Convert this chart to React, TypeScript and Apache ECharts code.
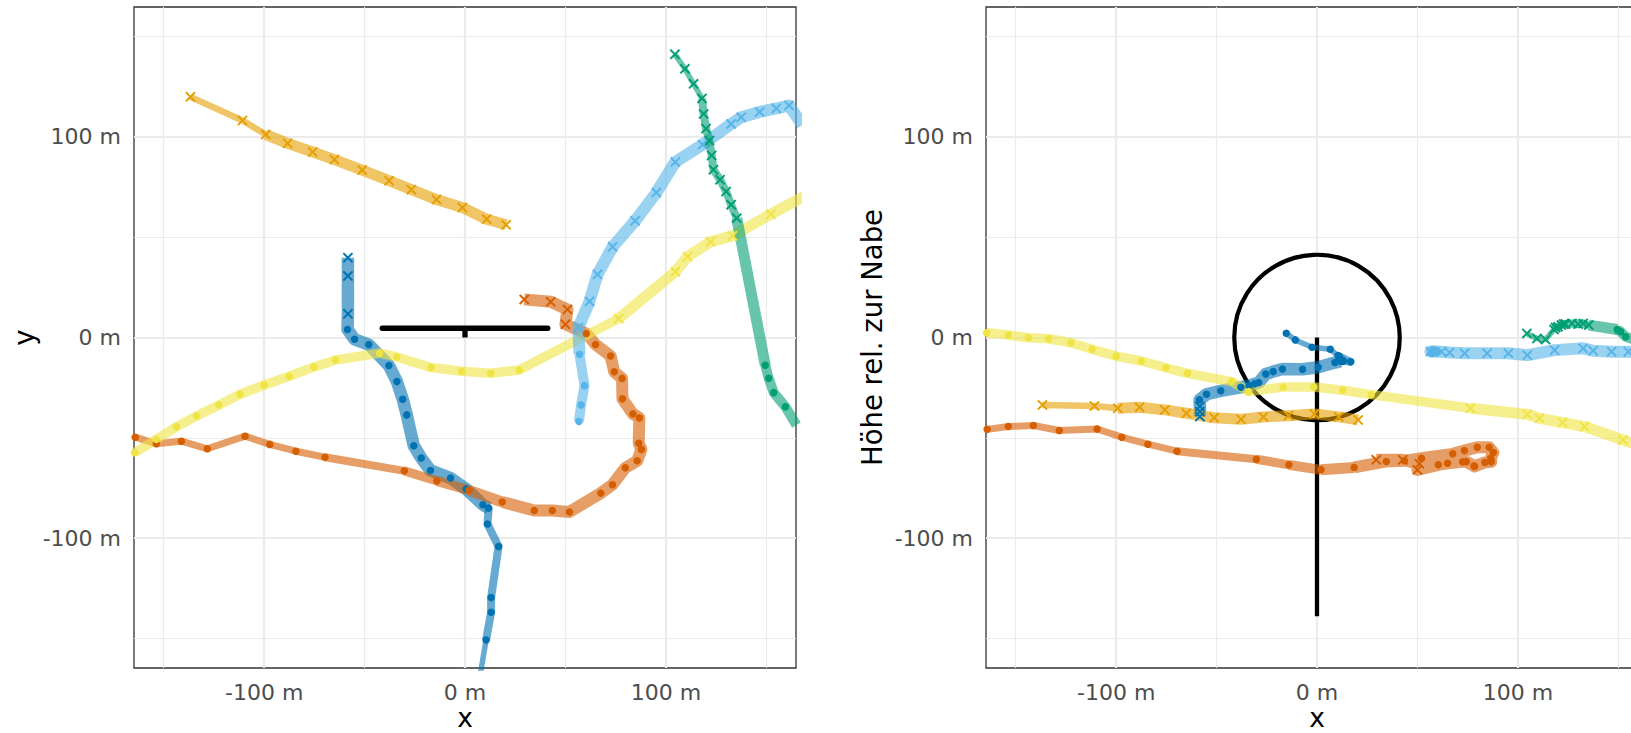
import React, { useEffect, useRef } from "react";
import * as echarts from "echarts";

const FONT = "DejaVu Sans";

// axis limits and breaks (m)
const axisLimits = [-164.8, 164.8];
const majorBreaks = [-100, 0, 100];
const minorBreaks = [-150, -50, 50, 150];

// turbine geometry (m)
const rotorRadius = 41.2;
const nacelleY = 4.6;
const towerHeight = 139;

// ---- tracks: x (m), y (m), z = height rel. to hub (m), shape per point ----
const orangeX = [-136.7, -110.8, -99.2, -88.3, -75.8, -65.0, -51.2, -37.8, -26.7, -14.2, -1.3, 10.8, 20.5];
const orangeY = [120.0, 108.2, 101.2, 96.8, 92.5, 88.7, 83.5, 78.2, 73.7, 68.8, 64.8, 59.0, 56.2];
const orangeZ = [-33.6, -34.1, -35.3, -34.8, -36.1, -37.8, -40.0, -40.8, -39.6, -39.0, -38.1, -39.6, -41.1];
const orangeShape = "xxxxxxxxxxxxx";

const skyX = [56.7, 57.8, 59.5, 57.0, 56.5, 62.0, 66.0, 73.5, 84.7, 95.3, 104.7, 118.3, 132.5, 137.5, 146.7, 155.0, 161.3, 168.0];
const skyY = [-41.9, -33.6, -24.0, -8.4, 5.1, 18.0, 31.5, 45.2, 58.2, 72.3, 87.5, 96.2, 106.5, 109.8, 112.5, 114.2, 115.7, 106.0];
const skyZ = [-8.0, -6.5, -7.0, -7.5, -7.0, -7.1, -7.5, -7.9, -7.9, -7.9, -8.8, -6.3, -5.4, -6.6, -7.1, -7.1, -7.5, -8.0];
const skyShape = "ooooxxxxxxxxxxxxxx";

const greenX = [104.5, 109.5, 113.8, 118.0, 118.8, 120.0, 121.7, 122.8, 123.7, 127.0, 130.0, 132.5, 135.3, 149.5, 151.2, 153.7, 159.5, 165.0];
const greenY = [141.2, 134.0, 126.5, 119.2, 111.5, 104.2, 98.2, 90.8, 83.7, 78.7, 72.8, 66.2, 59.5, -13.8, -20.3, -27.5, -34.5, -43.7];
const greenZ = [2.0, -0.5, -1.0, 4.0, 5.0, 5.3, 6.2, 6.7, 6.7, 7.0, 6.7, 7.0, 6.2, 4.0, 2.9, 0.4, -1.5, -3.0];
const greenShape = "xxxxxxxxxxxxxooooo";

const yellowX = [-164.5, -153.7, -143.7, -133.7, -122.5, -112.0, -100.0, -87.5, -75.2, -64.5, -42.5, -34.0, -16.9, -1.6, 12.8, 27.0, 76.4, 104.7, 110.8, 122.3, 133.2, 152.3, 170.0];
const yellowY = [-57.5, -50.8, -44.5, -39.2, -33.7, -28.3, -23.7, -19.3, -14.7, -11.2, -7.8, -9.7, -15.0, -16.8, -17.8, -16.2, 9.4, 32.8, 40.3, 47.8, 50.7, 61.5, 71.0];
const yellowZ = [2.4, 1.2, -0.1, -0.6, -2.6, -5.9, -9.3, -11.7, -15.1, -17.9, -22.0, -27.0, -24.7, -24.7, -26.3, -28.5, -35.3, -38.3, -40.3, -42.4, -44.4, -51.1, -57.0];
const yellowShape = "ooooooooooooooooxxxxxxx";

const blueX = [-58.3, -58.3, -58.3, -58.5, -55.0, -47.9, -37.9, -33.9, -31.0, -29.0, -25.5, -21.8, -17.2, -7.2, 0.6, 8.9, 11.8, 11.2, 16.7, 13.0, 13.0, 10.5, 6.6, -2.5, -10.8, -15.3];
const blueY = [39.8, 30.7, 11.8, 4.0, -0.9, -3.5, -14.0, -22.0, -30.8, -38.6, -54.0, -60.1, -66.3, -70.1, -75.6, -83.4, -85.0, -93.0, -104.2, -129.7, -137.0, -150.8, -174.0, -185.0, -195.0, -202.0];
const blueZ = [-39.4, -37.0, -34.4, -31.1, -28.3, -26.6, -24.8, -24.0, -23.1, -22.5, -18.2, -17.0, -15.7, -15.8, -14.8, -12.5, -11.8, -9.5, -12.1, -11.5, -11.8, -9.0, -5.9, -4.9, -1.2, 2.1];
const blueShape = "xxxooooooooooooooooooooooo";

const vermX = [-164.2, -153.7, -141.2, -128.3, -109.5, -97.2, -84.2, -69.7, -30.2, -14.0, 2.0, 18.5, 34.5, 43.5, 52.0, 67.6, 73.4, 79.8, 85.7, 87.8, 86.5, 86.8, 83.6, 78.4, 78.2, 74.3, 72.5, 65.0, 60.4, 50.0, 51.0, 42.7, 29.5];
const vermY = [-49.7, -53.0, -51.7, -55.5, -49.2, -53.3, -56.7, -59.7, -66.5, -71.5, -76.2, -82.0, -86.3, -86.3, -87.0, -77.6, -73.4, -65.0, -61.5, -55.8, -52.7, -40.1, -38.1, -30.6, -20.4, -17.1, -9.2, -3.5, 2.0, 6.6, 14.0, 17.8, 19.0];
const vermZ = [-45.8, -44.4, -43.9, -46.4, -45.6, -49.7, -53.2, -56.7, -60.7, -63.5, -66.0, -64.8, -61.8, -61.5, -60.2, -58.0, -56.4, -54.7, -54.7, -57.4, -60.2, -62.0, -62.3, -64.3, -64.0, -61.9, -62.0, -62.7, -63.5, -66.0, -63.0, -61.0, -61.0];
const vermShape = "oooooooooooooooooooooooooooooxxxx";

// ---- styles: path width per segment (px) ----
const orangeWidth = [6.5, 6.5, 11, 11, 11, 11, 11, 11, 11, 11, 11, 11];
const skyWidth = [10, 10, 10, 12, 12, 12, 12, 12, 12, 12, 12, 12, 12, 12, 12, 12, 12];
const greenWidth = [5.5, 5.5, 5.5, 8, 8, 8, 8, 8, 8, 8, 8, 8, 11, 10, 10, 10, 10];
const yellowWidth = [9.5, 9.5, 9.5, 9.5, 9.5, 9.5, 9.5, 9.5, 9.5, 9.5, 9.5, 9.5, 9.5, 9.5, 9.5, 9.5, 11, 11, 11, 11, 11, 11];
const blueWidth = [12.5, 12.5, 12.5, 12.5, 12.5, 12.5, 12.5, 12.5, 12.5, 12.5, 12.5, 12.5, 12.5, 12.5, 12.5, 12.5, 8, 8, 8, 8, 8, 5.5, 5.5, 5.5, 5.5];
const vermWidth = [7, 7, 7, 7, 7, 7, 7, 8, 9, 10, 11, 12, 12, 12, 12, 12, 12, 12, 12, 12, 12, 12, 12, 12, 12, 12, 12, 12, 12, 12, 12, 12];

const tracks = [
  { color: "#0072B2", x: blueX, y: blueY, z: blueZ, shape: blueShape, widths: blueWidth },
  { color: "#D55E00", x: vermX, y: vermY, z: vermZ, shape: vermShape, widths: vermWidth },
  { color: "#F0E442", x: yellowX, y: yellowY, z: yellowZ, shape: yellowShape, widths: yellowWidth },
  { color: "#56B4E9", x: skyX, y: skyY, z: skyZ, shape: skyShape, widths: skyWidth },
  { color: "#E69F00", x: orangeX, y: orangeY, z: orangeZ, shape: orangeShape, widths: orangeWidth },
  { color: "#009E73", x: greenX, y: greenY, z: greenZ, shape: greenShape, widths: greenWidth },
];

const CROSS = "path://M0,1.3L1.3,0L5,3.7L8.7,0L10,1.3L6.3,5L10,8.7L8.7,10L5,6.3L1.3,10L0,8.7L3.7,5Z";

function buildSeries(): any[] {
  const series: any[] = [];
  for (let p = 0; p < 2; p++) {
    // grid lines (drawn through the axis scales)
    const gl = (v: number, w: number, key: string) => ({ [key]: v, lineStyle: { width: w, color: "#EBEBEB", type: "solid" } });
    series.push({
      type: "line",
      xAxisIndex: p,
      yAxisIndex: p,
      data: [],
      silent: true,
      z: 1,
      markLine: {
        silent: true,
        z: 1,
        animation: false,
        symbol: ["none", "none"],
        label: { show: false },
        emphasis: { disabled: true },
        data: [
          ...minorBreaks.map((v) => gl(v, 1.1, "xAxis")),
          ...minorBreaks.map((v) => gl(v, 1.1, "yAxis")),
          ...majorBreaks.map((v) => gl(v, 2.2, "xAxis")),
          ...majorBreaks.map((v) => gl(v, 2.2, "yAxis")),
        ],
      },
    });
  }
  // turbine, top view
  series.push({
    type: "line", xAxisIndex: 0, yAxisIndex: 0, z: 2, silent: true, symbol: "none",
    data: [[-rotorRadius, nacelleY], [rotorRadius, nacelleY]],
    lineStyle: { color: "#000", width: 5.3, cap: "round" },
  });
  series.push({
    type: "line", xAxisIndex: 0, yAxisIndex: 0, z: 2, silent: true, symbol: "none",
    data: [[0, nacelleY], [0, 0]],
    lineStyle: { color: "#000", width: 5.3, cap: "butt" },
  });
  // turbine, side view
  series.push({
    type: "line", xAxisIndex: 1, yAxisIndex: 1, z: 2, silent: true, symbol: "none",
    data: [[0, 0], [0, -towerHeight]],
    lineStyle: { color: "#000", width: 4.3, cap: "butt" },
  });
  series.push({
    type: "custom", xAxisIndex: 1, yAxisIndex: 1, z: 2, silent: true, clip: true,
    data: [[0, 0, rotorRadius]],
    renderItem: (_params: any, api: any) => {
      const c = api.coord([api.value(0), api.value(1)]);
      const r = api.size([api.value(2), 0])[0];
      return {
        type: "circle",
        shape: { cx: c[0], cy: c[1], r },
        style: { fill: "none", stroke: "#000", lineWidth: 4.2 },
      };
    },
  });

  // paths
  for (let p = 0; p < 2; p++) {
    for (const t of tracks) {
      const pts = t.x.map((xv, i) => [xv, p === 0 ? t.y[i] : t.z[i]]);
      let start = 0;
      for (let i = 1; i <= t.widths.length; i++) {
        if (i === t.widths.length || t.widths[i] !== t.widths[start]) {
          series.push({
            type: "line", xAxisIndex: p, yAxisIndex: p, z: 3, silent: true, clip: true,
            symbol: "none", showSymbol: false,
            data: pts.slice(start, i + 1),
            lineStyle: { color: t.color, width: t.widths[start], opacity: 0.6, cap: "butt", join: "round" },
          });
          start = i;
        }
      }
    }
  }
  // points
  for (let p = 0; p < 2; p++) {
    for (const t of tracks) {
      const dots: number[][] = [];
      const crosses: number[][] = [];
      t.x.forEach((xv, i) => {
        const pt = [xv, p === 0 ? t.y[i] : t.z[i]];
        if (t.shape[i] === "x") crosses.push(pt);
        else dots.push(pt);
      });
      series.push({
        type: "scatter", xAxisIndex: p, yAxisIndex: p, z: 4, silent: true, clip: true,
        data: dots, symbol: "circle", symbolSize: 7.5,
        itemStyle: { color: t.color, opacity: 1 },
      });
      series.push({
        type: "scatter", xAxisIndex: p, yAxisIndex: p, z: 4, silent: true, clip: true,
        data: crosses, symbol: CROSS, symbolSize: 10.5,
        itemStyle: { color: t.color, opacity: 1 },
      });
    }
  }
  return series;
}

function axisBase(gridIndex: number, name: string, nameGap: number, nameSize: number) {
  return {
    type: "value",
    gridIndex,
    min: axisLimits[0],
    max: axisLimits[1],
    name,
    nameLocation: "middle",
    nameGap,
    nameMoveOverlap: false,
    nameTextStyle: { fontFamily: FONT, fontSize: nameSize, lineHeight: 26, color: "#000" },
    axisLine: { show: false },
    axisTick: { show: true, customValues: majorBreaks, length: 6, lineStyle: { color: "#333333", width: 1.5 } },
    axisLabel: {
      show: true,
      customValues: majorBreaks,
      formatter: (v: number) => `${v} m`,
      color: "#4D4D4D",
      fontSize: 22,
      fontFamily: FONT,
      margin: 13,
    },
    splitLine: { show: false },
    minorSplitLine: { show: false },
  };
}

export default function App() {
  const ref = useRef<HTMLDivElement>(null);
  useEffect(() => {
    if (!ref.current) return;
    const chart = echarts.init(ref.current, null, { renderer: "svg" });
    chart.setOption({
      animation: false,
      backgroundColor: "#ffffff",
      textStyle: { fontFamily: FONT },
      grid: [
        { left: 134, top: 7, width: 662, height: 661, outerBoundsMode: "none", containLabel: false, show: true, borderColor: "#333333", borderWidth: 1.3, backgroundColor: "transparent" },
        { left: 986, top: 7, width: 662, height: 661, outerBoundsMode: "none", containLabel: false, show: true, borderColor: "#333333", borderWidth: 1.3, backgroundColor: "transparent" },
      ],
      xAxis: [axisBase(0, "x", 36, 26.5), axisBase(1, "x", 36, 26.5)],
      yAxis: [axisBase(0, "y", 97, 27.5), axisBase(1, "Höhe rel. zur Nabe", 101, 27.5)],
      series: buildSeries(),
    });
    return () => chart.dispose();
  }, []);
  return (
    <div style={{ position: "fixed", left: 0, top: 0, width: 1631, height: 733, overflow: "hidden", background: "#fff" }}>
      <div ref={ref} style={{ width: 1660, height: 733 }} />
    </div>
  );
}
